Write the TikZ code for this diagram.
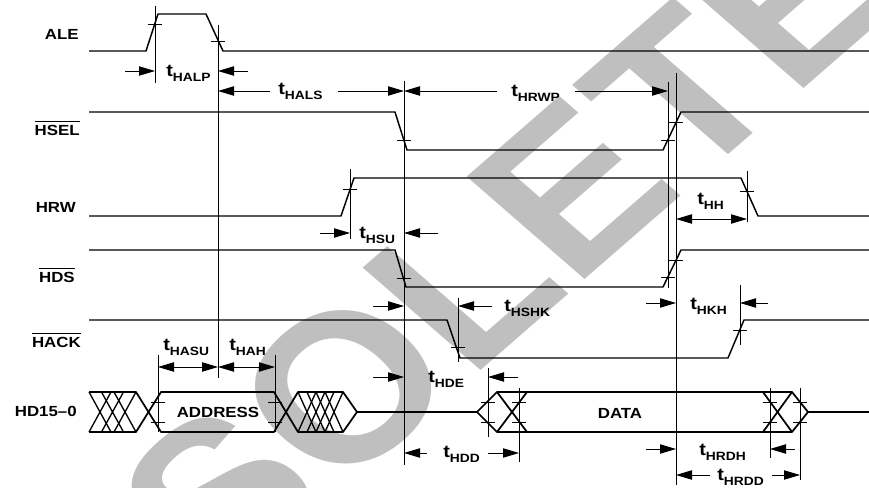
\documentclass[tikz,border=0pt]{standalone}
\usepackage{fontspec}
\setmainfont{Liberation Sans}
\newfontfamily\lb[FakeStretch=1.15]{Liberation Sans}
\usetikzlibrary{arrows.meta}
\newcommand\tsub[1]{{\fontsize{13}{13}\selectfont t}\raisebox{-3.2pt}{\fontsize{9}{9}\selectfont #1}}
\newcommand\myovl[1]{\leavevmode\setbox0\hbox{#1}\rlap{\raisebox{\dimexpr\ht0+2.6pt\relax}{\rule{\wd0}{1.1pt}}}\box0}
\begin{document}
\begin{tikzpicture}[x=0.75pt,y=-0.75pt,
 sig/.style={line width=1.1pt,line join=round},
 bus/.style={line width=1.3pt,line join=round},
 hatch/.style={line width=1pt},
 thin/.style={line width=0.65pt},
 dim/.style={line width=0.65pt,-{Triangle[length=12pt,width=7pt]}},
 dimb/.style={line width=0.65pt,{Triangle[length=12pt,width=7pt]}-{Triangle[length=12pt,width=7pt]}},
 lab/.style={font=\lb\bfseries\fontsize{11}{13}\selectfont,inner sep=0pt,anchor=base east},
 tm/.style={font=\lb\bfseries,inner sep=0pt,anchor=base west},
 bl/.style={font=\lb\bfseries\fontsize{11}{13}\selectfont,inner sep=0pt}]
\useasboundingbox (0,0) rectangle (869,488);
\fill[white] (0,0) rectangle (869,488);
% watermark
\begin{scope}
\clip (0,0) rectangle (869,488);
\begin{scope}[shift={(377,358)},xscale=1.15]
\node[rotate=45,transform shape,text=black!25,font=\fontsize{158}{158}\selectfont\bfseries,inner sep=0pt] (wm) at (0,0) {OBSOLETE};
\end{scope}
\end{scope}
% reference lines
\draw[thin] (155,6) -- (155,83);
\draw[thin] (218,25) -- (218,378);
\draw[thin] (350,169) -- (350,239);
\draw[thin] (404,81) -- (404,465);
\draw[thin] (458,298) -- (458,362);
\draw[thin] (668,82) -- (668,288);
\draw[thin] (676,73) -- (676,485);
\draw[thin] (740,285) -- (740,345);
\draw[thin] (747,171) -- (747,222);
\draw[thin] (158,355) -- (158,432);
\draw[thin] (275,355) -- (275,432);
\draw[thin] (488,368) -- (488,437);
\draw[thin] (519,388) -- (519,462);
\draw[thin] (770,388) -- (770,458);
\draw[thin] (800,388) -- (800,480);
% signals
\draw[sig] (89,51) -- (146,51) -- (158,14) -- (206,14) -- (223,51) -- (869,51);
\draw[sig] (89,112) -- (395,112) -- (407,150) -- (663,150) -- (681,112) -- (869,112);
\draw[sig] (89,216) -- (341,216) -- (354,178) -- (741,178) -- (758,216) -- (869,216);
\draw[sig] (89,250) -- (395,250) -- (406,287) -- (663,287) -- (681,250) -- (869,250);
\draw[sig] (89,320) -- (447,320) -- (460,358) -- (728,358) -- (744,320) -- (869,320);
% ticks
\foreach \p in {(155,24),(218,41),(404,140),(668,140),(676,122),(350,189),(747,191),(404,278),(668,277),(676,260),(458,347),(740,330),
  (158,402),(158,422),(275,402),(275,422),(488,402),(488,422),(519,402),(519,422),(770,402),(770,422),(800,402),(800,422)}
  {\draw[thin] \p ++(-7,0) -- ++(14,0);}
% bus
\draw[bus] (89,392) -- (136,392) -- (161,432) -- (274,432) -- (298,392) -- (343,392) -- (357,412);
\draw[bus] (89,432) -- (136,432) -- (161,392) -- (274,392) -- (298,432) -- (343,432) -- (357,412) -- (477,412);
\foreach \x in {89,101.5,114} {\draw[hatch] (\x,392) -- (\x+22,432) (\x,432) -- (\x+22,392);}
\foreach \x in {298,307,316,325} {\draw[hatch] (\x,392) -- (\x+18,432) (\x,432) -- (\x+18,392);}
\draw[bus] (477,412) -- (497,392) -- (527,432);
\draw[bus] (477,412) -- (497,432) -- (527,392);
\draw[bus] (497,392) -- (792,392) -- (808,412) -- (869,412);
\draw[bus] (497,432) -- (792,432) -- (808,412);
\draw[bus] (763,392) -- (792,432);
\draw[bus] (763,432) -- (792,392);
% dimension arrows
\draw[dim] (125,71) -- (155,71);
\draw[dim] (248,71) -- (218,71);
\draw[dim] (270,91) -- (218,91);
\draw[dim] (338,91) -- (404,91);
\draw[dim] (497,91) -- (404,91);
\draw[dim] (575,91) -- (668,91);
\draw[dim] (320,233) -- (350,233);
\draw[dim] (438,233) -- (404,233);
\draw[dimb] (676,219) -- (747,219);
\draw[dim] (373,306) -- (404,306);
\draw[dim] (492,306) -- (458,306);
\draw[dim] (646,303) -- (676,303);
\draw[dim] (768,303) -- (740,303);
\draw[dimb] (158,367) -- (218,367);
\draw[dimb] (218,367) -- (275,367);
\draw[dim] (373,377) -- (404,377);
\draw[dim] (518,377) -- (488,377);
\draw[dim] (427,453) -- (404,453);
\draw[dim] (488,453) -- (519,453);
\draw[dim] (646,449) -- (676,449);
\draw[dim] (795,449) -- (770,449);
\draw[dim] (710,475) -- (676,475);
\draw[dim] (772,475) -- (800,475);
% timing labels
\node[tm] (halp) at (166,77) {\tsub{HALP}};
\node[tm] (hals) at (278,95) {\tsub{HALS}};
\node[tm] (hrwp) at (511,97) {\tsub{HRWP}};
\node[tm] (hsu) at (359,239) {\tsub{HSU}};
\node[tm] (hh) at (697,205) {\tsub{HH}};
\node[tm] (hshk) at (504,312) {\tsub{HSHK}};
\node[tm] (hkh) at (690,310) {\tsub{HKH}};
\node[tm] (hasu) at (163,351) {\tsub{HASU}};
\node[tm] (hah) at (229,351) {\tsub{HAH}};
\node[tm] (hde) at (428,383) {\tsub{HDE}};
\node[tm] (hdd) at (443,458) {\tsub{HDD}};
\node[tm] (hrdh) at (699,456) {\tsub{HRDH}};
\node[tm] (hrdd) at (717,481) {\tsub{HRDD}};
% signal labels
\node[lab] (ale) at (79,40) {ALE};
\node[lab] (hsel) at (80,136) {\myovl{HSEL}};
\node[lab] (hrw) at (76,213) {HRW};
\node[lab] (hds) at (75,283) {\myovl{HDS}};
\node[lab] (hack) at (81,348) {\myovl{HACK}};
\node[lab] (hd) at (77,417) {HD15–0};
\node[bl] (addr) at (218,412) {ADDRESS};
\node[bl] (data) at (620,413) {DATA};
\end{tikzpicture}
\end{document}
